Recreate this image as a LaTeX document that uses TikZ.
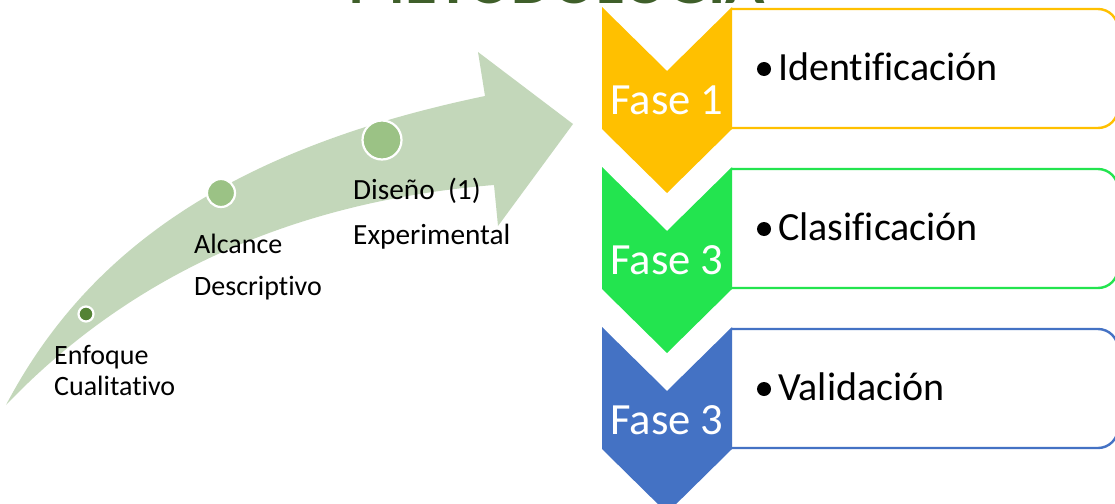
\documentclass[tikz,border=0pt]{standalone}
\usepackage{fontspec}
\setmainfont[RawFeature={-liga;-clig;-dlig}]{Carlito}
\definecolor{arrowgreen}{HTML}{C3D7BA}
\definecolor{dotdark}{HTML}{548235}
\definecolor{dotlight}{HTML}{9BC285}
\definecolor{titlegreen}{HTML}{3F5F2A}
\definecolor{yel}{HTML}{FFC000}
\definecolor{grn}{HTML}{23E44F}
\definecolor{blu}{HTML}{4472C4}
\tikzset{
  lbl/.style={font=\fontsize{28}{28}\selectfont,anchor=base west,inner sep=0pt,text=black},
  lblb/.style={font=\fontsize{29.3}{29.3}\selectfont,anchor=base west,inner sep=0pt,text=black},
  dotn/.style={circle,draw=white,line width=2.2pt,inner sep=0pt},
  fase/.style={font=\fontsize{44.6}{44.6}\selectfont,text=white,anchor=base,inner sep=0pt},
  item/.style={font=\fontsize{40}{40}\selectfont,anchor=base west,inner sep=0pt,text=black},
  bul/.style={circle,fill=black,inner sep=0pt,minimum size=14pt},
  tbox/.style={line width=2.4pt,fill=white,rounded corners=20pt}
}
\newcommand{\chev}[3]{%
  \fill[white,draw=#2,tbox] (732,#1+2) -- (1118,#1+2) -- (1118,#1+121) -- (732,#1+121);
  \fill[#2] (602,#1) -- (667,#1+64) -- (732,#1) -- (732,#1+122) -- (667,#1+186) -- (602,#1+122) -- cycle;
  \node[fase] at (667,#1+107) {#3};
}
\begin{document}
\begin{tikzpicture}[x=1pt,y=-1pt]
\useasboundingbox (0,0) rectangle (1115,503);
\clip (0,0) rectangle (1115,503);
\node[font=\fontsize{65}{65}\bfseries\selectfont,text=titlegreen,anchor=base,inner sep=0pt] (title) at (557,4) {METODOLOGIA};
% sweeping arrow
\fill[arrowgreen] (6,405) .. controls (85,255) and (225,150) .. (485,96) -- (478,52) -- (573,124) -- (498,226) -- (494,185)
  .. controls (310,200) and (140,265) .. (6,405) -- cycle;
\node[dotn,fill=dotdark,minimum size=15pt] (d1) at (86,314) {};
\node[dotn,fill=dotlight,minimum size=28pt] (d2) at (221,193) {};
\node[dotn,fill=dotlight,minimum size=39pt] (d3) at (382,140) {};
\node[lbl] at (54,364) {Enfoque};
\node[lbl] at (54,395) {Cualitativo};
\node[lbl] at (194,253) {Alcance};
\node[lbl] at (194,295) {Descriptivo};
\node[lblb] at (353,199) {Diseño\ \ (1)};
\node[lblb] at (353,244) {Experimental};
% phases
\chev{7}{yel}{Fase 1}
\chev{167}{grn}{Fase 3}
\chev{327}{blu}{Fase 3}
\node[bul] at (764,69) {};
\node[bul] at (764,229) {};
\node[bul] at (764,389) {};
\node[item] at (778,81) {Identificación};
\node[item] at (778,240.5) {Clasificación};
\node[item] at (778,400) {Validación};
\end{tikzpicture}
\end{document}
